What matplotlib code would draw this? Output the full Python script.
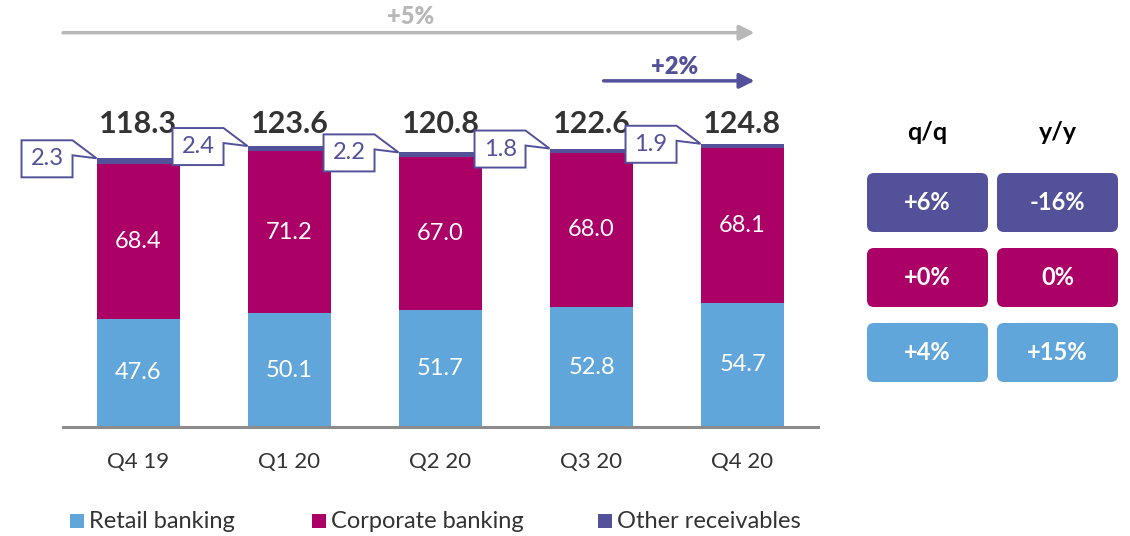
import numpy as np
import matplotlib
matplotlib.use("Agg")
import matplotlib.pyplot as plt
from matplotlib.patches import Polygon, FancyBboxPatch, Rectangle

plt.rcParams["font.family"] = ["Lato", "DejaVu Sans"]

quarters = ["Q4 19", "Q1 20", "Q2 20", "Q3 20", "Q4 20"]
retail = [47.6, 50.1, 51.7, 52.8, 54.7]
corporate = [68.4, 71.2, 67.0, 68.0, 68.1]
other = [2.3, 2.4, 2.2, 1.8, 1.9]
totals = [118.3, 123.6, 120.8, 122.6, 124.8]

growth_cols = ["q/q", "y/y"]
growth_other = ["+6%", "-16%"]
growth_corp = ["+0%", "0%"]
growth_retail = ["+4%", "+15%"]

C_RETAIL = "#60A6DA"
C_CORP = "#AB0066"
C_OTHER = "#525199"
C_TEXT = "#333333"
C_GREY = "#B8B8B8"

W, H = 1130, 536
fig = plt.figure(figsize=(W / 100, H / 100), dpi=100)

# bar area: baseline at y=427px, 151px per category
ax = fig.add_axes([63 / W, (H - 427) / H, 755 / W, 427 / H])
ax.set_xlim(-0.5, 4.5)
ax.set_ylim(0, 188)
ax.axis("off")

x = np.arange(len(quarters))
bw = 0.556
retail_a = np.array(retail)
corp_a = np.array(corporate)
other_a = np.array(other)

ax.bar(x, retail_a, bw, color=C_RETAIL)
ax.bar(x, corp_a, bw, bottom=retail_a, color=C_CORP)
ax.bar(x, other_a, bw, bottom=retail_a + corp_a, color=C_OTHER)
ax.axhline(0, color="#8C8C8C", lw=2.2, clip_on=False)

for i in x:
    ax.text(i, retail_a[i] / 2, f"{retail[i]:.1f}", color="white",
            ha="center", va="center", fontsize=17)
    ax.text(i, retail_a[i] + corp_a[i] / 2, f"{corporate[i]:.1f}",
            color="white", ha="center", va="center", fontsize=17)
    ax.text(i, 133.5, f"{totals[i]:.1f}", color=C_TEXT, ha="center",
            va="center", fontsize=22, fontweight="bold")
    ax.text(i, -15.5, quarters[i], color=C_TEXT, ha="center", va="center",
            fontsize=16)

    # callout box pointing at the top-left corner of each bar
    px, py = 1 / 151, 1 / 2.27
    tx = i - bw / 2
    ty = retail_a[i] + corp_a[i] + other_a[i]
    right = tx - 24 * px
    left = right - 51 * px
    top = ty + 18 * py
    bottom = top - 37 * py
    notch = top - 15 * py
    ax.add_patch(Polygon(
        [(left, top), (right, top), (tx, ty), (right, notch),
         (right, bottom), (left, bottom)],
        closed=True, facecolor="white", edgecolor=C_OTHER, lw=1.4,
        zorder=5, clip_on=False))
    ax.text((left + right) / 2, (top + bottom) / 2, f"{other[i]:.1f}",
            color=C_OTHER, ha="center", va="center", fontsize=17, zorder=6)

# growth arrows
ax.annotate("", xy=(4.08, 173.6), xytext=(-0.5, 173.6),
            arrowprops=dict(arrowstyle="-|>,head_length=0.9,head_width=0.45",
                            color=C_GREY, lw=2.5, shrinkA=0, shrinkB=0),
            annotation_clip=False)
ax.text(1.80, 180.5, "+5%", color=C_GREY, ha="center", va="center",
        fontsize=17, fontweight="heavy")
ax.annotate("", xy=(4.08, 152.4), xytext=(3.08, 152.4),
            arrowprops=dict(arrowstyle="-|>,head_length=0.9,head_width=0.45",
                            color=C_OTHER, lw=2.5, shrinkA=0, shrinkB=0),
            annotation_clip=False)
ax.text(3.55, 158.5, "+2%", color=C_OTHER, ha="center", va="center",
        fontsize=17, fontweight="heavy")

# overlay in pixel coordinates for the growth table and legend
ov = fig.add_axes([0, 0, 1, 1])
ov.set_xlim(0, W)
ov.set_ylim(H, 0)
ov.axis("off")

col_x = [867, 997]
row_y = [173, 248, 323]
bw_px, bh_px = 121, 59
rows = [(growth_other, C_OTHER), (growth_corp, C_CORP),
        (growth_retail, C_RETAIL)]
for c, name in enumerate(growth_cols):
    ov.text(col_x[c] + bw_px / 2, 132, name, color="black", ha="center",
            va="center", fontsize=18, fontweight="bold")
    for r, (vals, col) in enumerate(rows):
        ov.add_patch(FancyBboxPatch(
            (col_x[c], row_y[r]), bw_px, bh_px,
            boxstyle="round,pad=0,rounding_size=7",
            facecolor=col, edgecolor="none"))
        ov.text(col_x[c] + bw_px / 2, row_y[r] + bh_px / 2, vals[c],
                color="white", ha="center", va="center", fontsize=17,
                fontweight="bold")

legend_items = [("Retail banking", C_RETAIL, 70),
                ("Corporate banking", C_CORP, 312),
                ("Other receivables", C_OTHER, 598)]
for label, col, lx in legend_items:
    ov.add_patch(Rectangle((lx, 514), 14, 14, facecolor=col, edgecolor="none"))
    ov.text(lx + 19, 521, label, color=C_TEXT, ha="left", va="center",
            fontsize=17)

fig.savefig("out.png", dpi=100)
